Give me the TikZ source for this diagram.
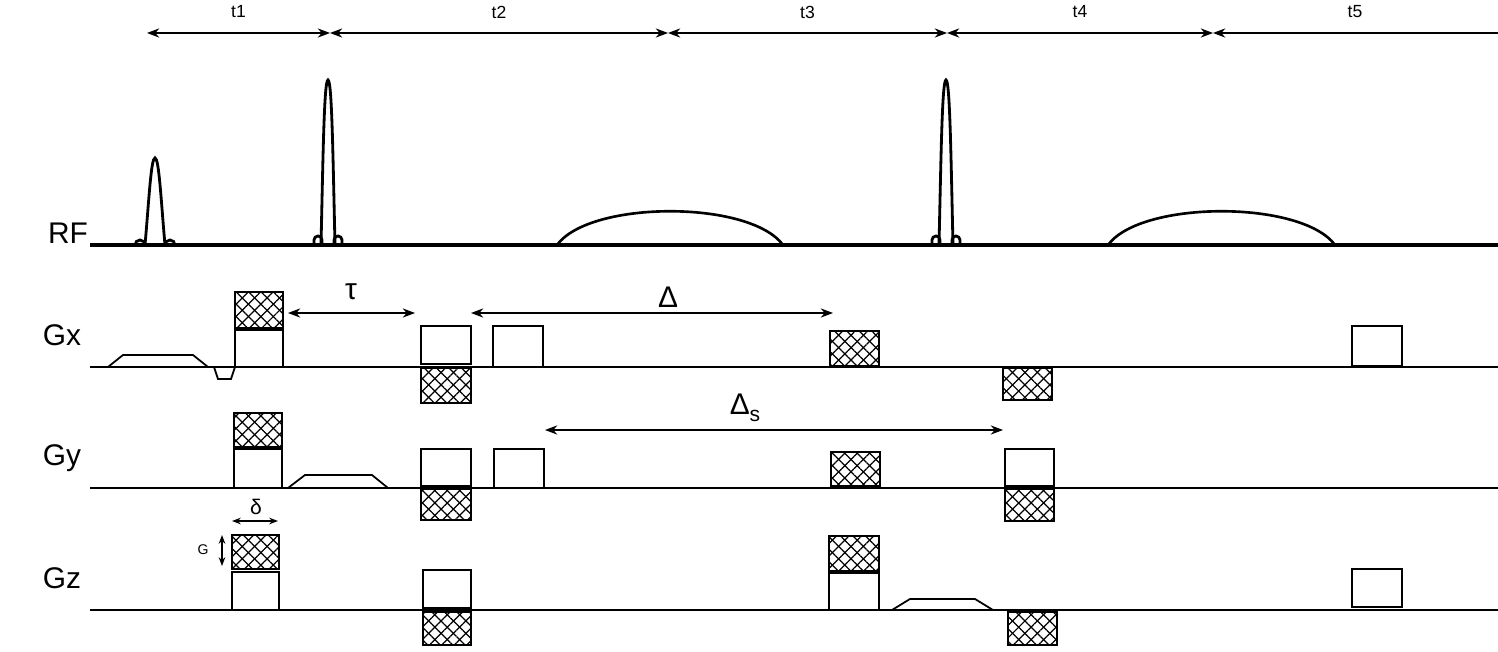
\documentclass[tikz,border=0pt]{standalone}
\usepackage{fontspec}
\setmainfont{Liberation Sans}
\usetikzlibrary{patterns.meta,arrows.meta}
\tikzset{
  wbox/.style={draw=black,line width=1.3pt,fill=white},
  hbox/.style={draw=black,line width=1.3pt,
    postaction={pattern={Lines[angle=45,distance=5pt,line width=0.7pt]}},
    postaction={pattern={Lines[angle=-45,distance=5pt,line width=0.7pt]}}},
  base/.style={line width=1.1pt},
  dim/.style={line width=0.7pt,{Stealth[length=7pt]}-{Stealth[length=7pt]}},
  tl/.style={font=\fontsize{10}{11}\selectfont},
  ax/.style={font=\fontsize{17}{19}\selectfont},
  gl/.style={font=\fontsize{17}{19}\selectfont},
  pulse/.style={line width=1.6pt},
}
\begin{document}
\begin{tikzpicture}[x=0.02cm,y=-0.02cm]
\useasboundingbox (0,0) rectangle (1498,652);
% timing arrows
\foreach \a/\b/\l/\n in {147/330/t1/ta,330/668/t2/tb,668/947/t3/tc,947/1213/t4/td}{
  \coordinate (\n1) at (\a,33); \coordinate (\n2) at (\b,33);
  \draw[dim] (\n1) -- (\n2);
  \node[tl] (\n l) at ({(\a+\b)/2},12) {\l};
}
\coordinate (te1) at (1213,33); \coordinate (te2) at (1498,33);
\draw[line width=0.7pt,{Stealth[length=7pt]}-] (te1) -- (te2);
\node[tl] (tel) at (1355,12) {t5};
% RF
\node[ax] (rf) at (68,233) {RF};
\coordinate (rf1) at (90,245); \coordinate (rf2) at (1498,245);
\draw[base,line width=1.8pt] (rf1) -- (rf2);
% small pulse
\draw[pulse] (145,245) .. controls (149,200) and (151,158) .. (155,158) .. controls (159,158) and (161,200) .. (165,245);
\draw[pulse] (135,245) arc (180:360:5) (165,245) arc (180:360:5);
% big pulses
\foreach \c in {328,946}{
 \draw[pulse] (\c-7,245) .. controls (\c-5,160) and (\c-4,80) .. (\c,80) .. controls (\c+4,80) and (\c+5,160) .. (\c+7,245);
 \draw[pulse] (\c-14,245) -- (\c-14,240) arc (180:360:4) -- (\c-6,245);
 \draw[pulse] (\c+6,245) -- (\c+6,240) arc (180:360:4) -- (\c+14,245);
}
% echoes
\draw[line width=1.5pt] (557,245) .. controls (590,200) and (750,200) .. (783,245);
\draw[line width=1.5pt] (1108,245) .. controls (1141,200) and (1302,200) .. (1335,245);
% Gx
\node[gl] (gx) at (62,335) {Gx};
\coordinate (gx1) at (90,367); \coordinate (gx2) at (1498,367);
\draw[base] (gx1) -- (gx2);
\draw[line width=1pt] (108,367) -- (123,355) -- (193,355) -- (208,367);
\draw[line width=1pt] (214,367) -- (218,379) -- (231,379) -- (235,367);
\draw[wbox] (235,330) rectangle (283,367);
\draw[hbox] (235,292) rectangle (283,328);
\coordinate (tau1) at (288,313); \coordinate (tau2) at (415,313);
\draw[dim] (tau1) -- (tau2);
\node[ax] (taul) at (351,292) {τ};
\draw[wbox] (421,326) rectangle (471,364);
\draw[hbox] (421,368) rectangle (471,403);
\draw[wbox] (493,326) rectangle (543,367);
\coordinate (D1) at (471,313); \coordinate (D2) at (833,313);
\draw[dim] (D1) -- (D2);
\node[ax] (Dl) at (668,297) {Δ};
\draw[hbox] (830,331) rectangle (879,366);
\draw[hbox] (1003,368) rectangle (1052,400);
\draw[wbox] (1352,326) rectangle (1402,366);
% Gy
\node[gl] (gy) at (62,458) {Gy};
\coordinate (gy1) at (90,488); \coordinate (gy2) at (1498,488);
\draw[base] (gy1) -- (gy2);
\draw[hbox] (234,413) rectangle (282,447);
\draw[wbox] (234,449) rectangle (282,488);
\draw[line width=1pt] (288,488) -- (305,475) -- (372,475) -- (388,488);
\coordinate (Ds1) at (545,430); \coordinate (Ds2) at (1003,430);
\draw[dim] (Ds1) -- (Ds2);
\node[ax] (Dsl) at (745,408) {Δ\raisebox{-4pt}{\fontsize{12}{13}\selectfont s}};
\draw[wbox] (421,449) rectangle (471,486);
\draw[hbox] (421,489) rectangle (471,520);
\draw[wbox] (494,449) rectangle (544,488);
\draw[hbox] (831,452) rectangle (880,486);
\draw[wbox] (1005,449) rectangle (1054,486);
\draw[hbox] (1005,489) rectangle (1054,521);
% Gz
\node[gl] (gz) at (62,578) {Gz};
\coordinate (gz1) at (90,610); \coordinate (gz2) at (1498,610);
\draw[base] (gz1) -- (gz2);
\coordinate (d1) at (232,521); \coordinate (d2) at (278,521);
\draw[line width=1pt,{Stealth[length=5pt]}-{Stealth[length=5pt]}] (d1) -- (d2);
\node[font=\fontsize{12}{13}\selectfont] (dl) at (256,507) {δ};
\coordinate (g1) at (222,535); \coordinate (g2) at (222,566);
\draw[line width=1pt,{Stealth[length=5pt]}-{Stealth[length=5pt]}] (g1) -- (g2);
\node[font=\fontsize{8}{9}\selectfont] (gl) at (203,550) {G};
\draw[hbox] (232,535) rectangle (279,569);
\draw[wbox] (232,572) rectangle (279,610);
\draw[wbox] (423,570) rectangle (471,608);
\draw[hbox] (423,612) rectangle (471,645);
\draw[hbox] (829,536) rectangle (879,571);
\draw[wbox] (829,573) rectangle (879,610);
\draw[line width=1pt] (892,610) -- (910,599) -- (975,599) -- (993,610);
\draw[hbox] (1008,612) rectangle (1057,645);
\draw[wbox] (1352,569) rectangle (1402,607);
\end{tikzpicture}
\end{document}
